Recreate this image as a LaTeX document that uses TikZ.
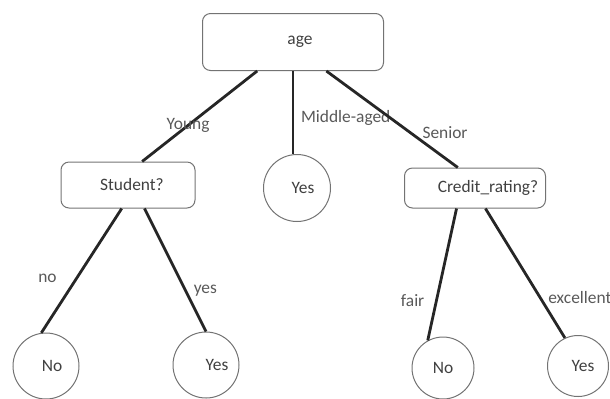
\documentclass[tikz,border=0pt]{standalone}
\usepackage{fontspec}
\setmainfont{Carlito}
\usepackage{tikz}

\begin{document}
\begin{tikzpicture}[x=0.5pt,y=-0.5pt,font=\fontsize{8.7}{10}\selectfont,text=black!75,
  test/.style={draw=black!55,line width=0.5pt,rounded corners=4pt,inner sep=0pt},
  leaf/.style={circle,draw=black!55,line width=0.5pt,inner sep=0pt},
  branch/.style={line width=1.4pt,draw=black!85},
  lbl/.style={text=black!65}]
\useasboundingbox(0,0)rectangle(610,398);
% tests
\node[test,minimum width=90.5pt,minimum height=28.5pt](age)at(293,42){\hspace{7pt}age};
\node[test,minimum width=67pt,minimum height=23pt](student)at(128,185){\hspace{4pt}Student?};
\node[test,minimum width=70.5pt,minimum height=20pt](credit)at(475,188){\hspace{13pt}Credit\_rating?};
% leaves
\node[leaf,minimum size=33.5pt](mid)at(297,188){\hspace{6pt}Yes};
\node[leaf,minimum size=33pt](no1)at(46,366){\hspace{6pt}No};
\node[leaf,minimum size=33pt](yes1)at(206,365){\hspace{11pt}Yes};
\node[leaf,minimum size=31pt](no2)at(443,368){No};
\node[leaf,minimum size=30.5pt](yes2)at(578,366){\hspace{5pt}Yes};
% branches
\draw[branch](age.219)--node[lbl,pos=0.6]{Young}(student.59);
\draw[branch](age.south)--node[lbl,pos=0.56,right]{Middle-aged}(age.south |- mid.north);
\draw[branch](age.319)--node[lbl,pos=0.64,right,xshift=2pt]{Senior}(credit.130);
\draw[branch](student.255)--node[lbl,pos=0.56,left,xshift=-6pt]{no}(no1.98);
\draw[branch](student.305)--node[lbl,pos=0.67,right]{yes}(yes1.north);
\draw[branch](credit.228)--node[lbl,pos=0.7,left,xshift=-2pt]{fair}(no2.119);
\draw[branch](credit.297)--node[lbl,pos=0.69,right]{excellent}(yes2.115);
\end{tikzpicture}
\end{document}
